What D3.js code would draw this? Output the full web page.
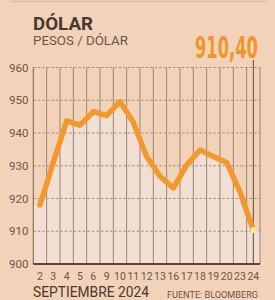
<!DOCTYPE html>
<html>
<head>
<meta charset="utf-8">
<script src="https://cdn.jsdelivr.net/npm/d3@7"></script>
<style>
  html, body { margin: 0; padding: 0; background: #f2d3b9; }
  svg { display: block; font-family: Roboto, "DejaVu Sans", sans-serif; }
</style>
</head>
<body>
<div id="chart"></div>
<script>
// data
var days = ["2", "3", "4", "5", "6", "9", "10", "11", "12", "13", "16", "17", "18", "19", "20", "23", "24"];
var values = [918, 931, 943.7, 942.4, 946.5, 945.3, 949.6, 943.3, 932.8, 926.8, 923.2, 930.2, 934.8, 932.8, 931, 922, 910.4];
var yTicks = [900, 910, 920, 930, 940, 950, 960];
var lastLabel = "910,40";

var width = 275, height = 300;
var m = {top: 67.5, right: 15, bottom: 36, left: 33.3};

var svg = d3.select("#chart").append("svg")
    .attr("width", width)
    .attr("height", height);

svg.append("rect").attr("width", width).attr("height", height).attr("fill", "#f2d3b9");

// faint top rule
svg.append("line")
    .attr("x1", 10).attr("x2", 268).attr("y1", 1.5).attr("y2", 1.5)
    .attr("stroke", "#dcc0a8").attr("stroke-width", 1.5);

var x = d3.scaleBand().domain(days).range([m.left, width - m.right]).padding(0);
var y = d3.scaleLinear().domain([900, 960]).range([height - m.bottom, m.top]);

var cx = function(d) { return x(d) + x.bandwidth() / 2; };

// area under the line
var pts = days.map(function(d, i) { return [cx(d), y(values[i])]; });
var areaPts = [[x.range()[0], y(values[0])]].concat(pts, [[x.range()[1], y(values[values.length - 1])]]);
svg.append("path")
    .attr("d", d3.area().x(function(p) { return p[0]; }).y0(y(900)).y1(function(p) { return p[1]; })(areaPts))
    .attr("fill", "#f2dfd3");

// horizontal dashed grid
svg.append("g").selectAll("line").data(yTicks.slice(1)).join("line")
    .attr("x1", m.left).attr("x2", width - m.right)
    .attr("y1", function(d) { return y(d); }).attr("y2", function(d) { return y(d); })
    .attr("stroke", "#8f7a6c").attr("stroke-width", 0.8)
    .attr("stroke-dasharray", "2.5,2");

// vertical column lines
var edges = days.map(function(d) { return x(d) + x.bandwidth(); });
svg.append("g").selectAll("line").data(edges).join("line")
    .attr("x1", function(d) { return d; }).attr("x2", function(d) { return d; })
    .attr("y1", y(960)).attr("y2", y(900))
    .attr("stroke", "#9a8576").attr("stroke-width", 1);

// y axis line
svg.append("line")
    .attr("x1", m.left).attr("x2", m.left).attr("y1", y(960)).attr("y2", y(900))
    .attr("stroke", "#8a7566").attr("stroke-width", 1.2);

// marker line for last value
var lastX = cx(days[days.length - 1]);
svg.append("line")
    .attr("x1", lastX).attr("x2", lastX).attr("y1", 60).attr("y2", y(900))
    .attr("stroke", "#5c4a3e").attr("stroke-width", 1);

// baseline
svg.append("line")
    .attr("x1", m.left).attr("x2", width - m.right).attr("y1", y(900)).attr("y2", y(900))
    .attr("stroke", "#5a473b").attr("stroke-width", 2);

// price line
svg.append("path")
    .attr("d", d3.line()(pts))
    .attr("fill", "none")
    .attr("stroke", "#f3982c")
    .attr("stroke-width", 5.5)
    .attr("stroke-linejoin", "round")
    .attr("stroke-linecap", "round");

svg.append("circle")
    .attr("cx", lastX).attr("cy", y(values[values.length - 1])).attr("r", 3)
    .attr("fill", "#fbe8a8");

// y tick labels
svg.append("g").selectAll("text").data(yTicks).join("text")
    .attr("x", 28.5).attr("y", function(d) { return y(d) + 4; })
    .attr("text-anchor", "end")
    .attr("font-size", 11.5)
    .attr("fill", "#6a5648")
    .text(function(d) { return d; });

// x tick labels
svg.append("g").selectAll("text").data(days).join("text")
    .attr("x", cx).attr("y", 279.5)
    .attr("text-anchor", "middle")
    .attr("font-size", 10.5)
    .attr("fill", "#6a5648")
    .text(function(d) { return d; });

// titles
svg.append("text").attr("x", 33).attr("y", 29.5)
    .attr("font-size", 17.5).attr("font-weight", "bold").attr("fill", "#4a382c")
    .attr("textLength", 60).attr("lengthAdjust", "spacingAndGlyphs")
    .text("DÓLAR");
svg.append("text").attr("x", 33).attr("y", 45)
    .attr("font-size", 12.5).attr("fill", "#6a5648")
    .attr("textLength", 95).attr("lengthAdjust", "spacingAndGlyphs")
    .text("PESOS / DÓLAR");

// big last value, squeezed to a condensed look
var big = svg.append("text")
    .attr("font-family", "'Liberation Sans Narrow', 'DejaVu Sans Condensed', sans-serif")
    .attr("font-size", 30).attr("font-weight", "bold").attr("fill", "#f0962a")
    .text(lastLabel);
var bigW = big.node().getComputedTextLength();
big.attr("transform", "translate(195,58) scale(" + (63 / bigW) + ",1)");

svg.append("text").attr("x", 33).attr("y", 297)
    .attr("font-size", 15).attr("fill", "#4a382c")
    .attr("textLength", 116).attr("lengthAdjust", "spacingAndGlyphs")
    .text("SEPTIEMBRE 2024");
svg.append("text").attr("x", 167).attr("y", 297.5)
    .attr("font-size", 9).attr("fill", "#6a5648")
    .attr("textLength", 91).attr("lengthAdjust", "spacingAndGlyphs")
    .text("FUENTE: BLOOMBERG");
</script>
</body>
</html>
